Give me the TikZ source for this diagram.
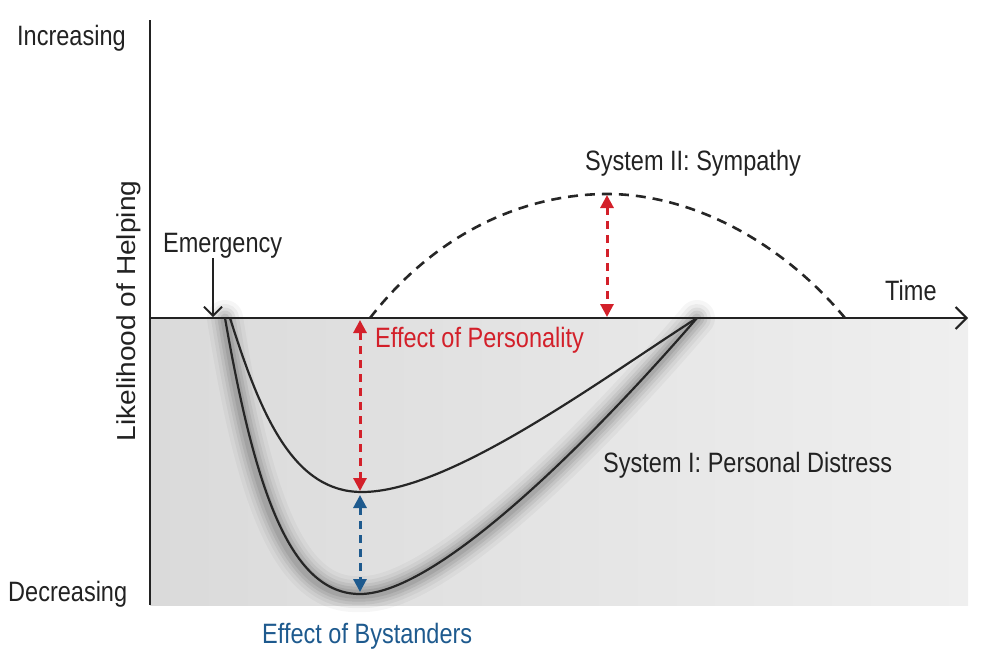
\documentclass[tikz,border=0pt]{standalone}
\usepackage{fontspec}
\setmainfont[FakeStretch=0.84]{Liberation Sans}
\newfontfamily\widefont[FakeStretch=1.08]{Liberation Sans}
\usetikzlibrary{arrows.meta}
\definecolor{txt}{HTML}{222222}
\definecolor{myred}{HTML}{D3202A}
\definecolor{myblue}{HTML}{1E5A8E}
\definecolor{shadeL}{HTML}{DADADA}
\definecolor{shadeR}{HTML}{EFEFEF}
\begin{document}
\begin{tikzpicture}[x=1pt,y=-1pt,
  lbl/.style={inner sep=0pt,anchor=base west,font=\fontsize{28}{32}\selectfont,text=txt},
  axisline/.style={line width=2pt,draw=txt},
  curveline/.style={line width=2.2pt,draw=black!85},
  effarrow/.style={line width=3pt,dash pattern=on 8pt off 6pt,{Triangle[length=13pt,width=13pt]}-{Triangle[length=13pt,width=13pt]}},
  sympathy/.style={line width=2.6pt,dash pattern=on 10pt off 7pt,draw=black!85}]
\useasboundingbox (0,0) rectangle (1004,670);
% gray area
\shade[left color=shadeL,right color=shadeR] (150,318) rectangle (968,605);
% named points
\coordinate (top) at (150,20);
\coordinate (bot) at (150,605);
\coordinate (O) at (150,318);
\coordinate (tend) at (968,318);
\coordinate (emtop) at (213,258);
\coordinate (emend) at (213,317);
\coordinate (sA) at (225,318);
\coordinate (sB) at (230,318);
\coordinate (E) at (697,318);
\coordinate (minI) at (362,492);
\coordinate (minO) at (360,594);
\coordinate (dS) at (370,318);
\coordinate (peak) at (607,194);
\coordinate (dE) at (845,318);
% shadow glow of the distress curves
\begin{scope}[shift={(-2,4)}]
\foreach \w/\o in {36/0.035,28/0.045,21/0.06,15/0.07,9/0.08}{
  \draw[line width=\w pt,black,opacity=\o,line cap=round]
    (sA) .. controls (255,490) and (290,594) .. (minO) .. controls (440,594) and (600,430) .. (E);
}
\end{scope}
% axes
\draw[axisline] (top) -- (bot);
\draw[axisline,-{Straight Barb[length=11pt,width=22pt,line width=2pt]}] (O) -- (tend);
% curves
\draw[curveline] (sA) .. controls (255,490) and (290,594) .. (minO) .. controls (440,594) and (600,430) .. (E);
\draw[curveline] (sB) .. controls (262,420) and (295,492) .. (minI) .. controls (450,492) and (600,380) .. (E);
\draw[sympathy] (dS) .. controls (440,228) and (530,194) .. (peak) .. controls (690,194) and (780,240) .. (dE);
% emergency arrow
\draw[line width=1.8pt,draw=txt,-{Straight Barb[length=9pt,width=18pt,line width=1.8pt]}] (emtop) -- (emend);
% effect arrows
\coordinate (pA) at (360,320);
\coordinate (pB) at (360,491);
\coordinate (bA) at (360,495);
\coordinate (bB) at (360,592);
\coordinate (sTop) at (607,195);
\coordinate (sBot) at (607,317);
\draw[effarrow,myred] (pA) -- (pB);
\draw[effarrow,myblue] (bA) -- (bB);
\draw[effarrow,myred] (sTop) -- (sBot);
% labels
\node[lbl] (inc) at (17,45) {Increasing};
\node[lbl] (dec) at (8,601) {Decreasing};
\node[lbl,anchor=base,rotate=90,font=\widefont\fontsize{26}{30}\selectfont] (lik) at (135,311) {Likelihood of Helping};
\node[lbl] (em) at (163,252) {Emergency};
\node[lbl] (sym) at (585,170) {System II: Sympathy};
\node[lbl] (time) at (885,300) {Time};
\node[lbl,text=myred] (pers) at (375,347) {Effect of Personality};
\node[lbl] (dist) at (603,472) {System I: Personal Distress};
\node[lbl,text=myblue] (bys) at (262,643) {Effect of Bystanders};
\end{tikzpicture}
\end{document}
